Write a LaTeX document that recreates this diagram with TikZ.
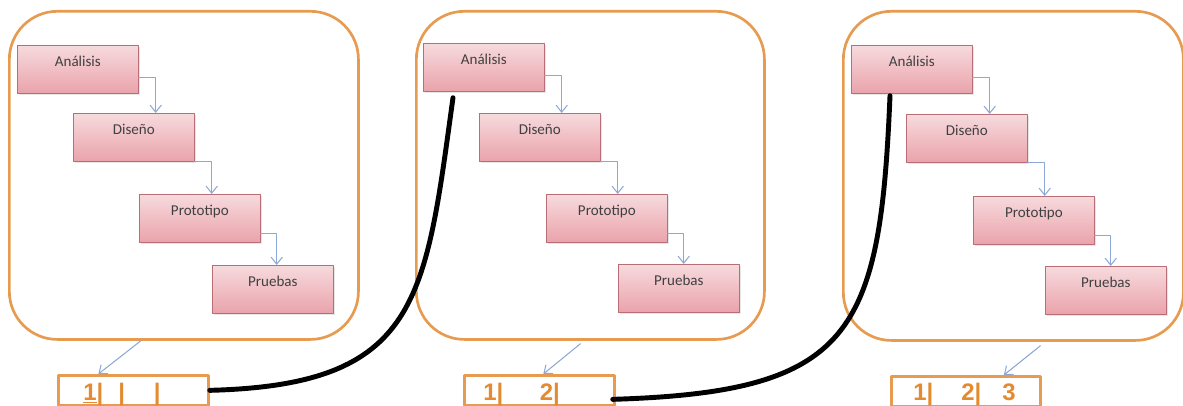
\documentclass[tikz,border=0pt]{standalone}
\usepackage{fontspec}
\setmainfont{Carlito}
\newfontfamily\cifras{Liberation Sans}
\usepackage{pgf,tikz}
\usetikzlibrary{arrows,arrows.meta,shadows}
\definecolor{naranja}{HTML}{E69B50}
\definecolor{cifra}{HTML}{E48A30}
\definecolor{rosa1}{HTML}{F6DADD}
\definecolor{rosa2}{HTML}{EAA3AB}
\definecolor{borde}{HTML}{B96D76}
\definecolor{flecha}{HTML}{8CA8D8}

\begin{document}
\begin{tikzpicture}[line cap=round,line join=round,x=0.025cm,y=-0.025cm,
  >={Straight Barb[length=5pt,width=8pt]},
  ciclo/.style={draw=naranja,line width=1.9pt,rounded corners=1.2cm,anchor=north west,inner sep=0pt,minimum height=8.2cm},
  etapa/.style={draw=borde,line width=0.5pt,top color=rosa1,bottom color=rosa2,anchor=north west,minimum width=3.025cm,inner xsep=0pt,inner ysep=0pt,text height=0.52cm,text depth=0.68cm,font=\fontsize{10.7}{13}\selectfont,text=black!75,drop shadow={opacity=0.2,shadow xshift=1pt,shadow yshift=-1pt}},
  flujo/.style={->,draw=flecha,line width=0.75pt},
  registro/.style={draw=naranja,line width=1.9pt,anchor=north west,minimum width=3.75cm,minimum height=0.75cm,inner sep=0pt},
  cifra/.style={anchor=base west,inner sep=0pt,text=cifra,font=\cifras\bfseries\fontsize{17}{20}\selectfont},
  enlace/.style={draw=black,line width=3.5pt}]
\useasboundingbox (0,0) rectangle (1183,406);
\node[ciclo,minimum width=8.725cm] (ciclo1) at (8,10) {};
\node[ciclo,minimum width=8.7cm] (ciclo2) at (415,10) {};
\node[ciclo,minimum width=8.5cm,minimum height=8.225cm] (ciclo3) at (842,10) {};
% primera vuelta
\node[etapa] (ana1) at (17,45) {Análisis};
\node[etapa] (dis1) at (73,113) {Diseño};
\node[etapa] (pro1) at (139,194) {Prototipo};
\node[etapa] (pru1) at (212,265) {Pruebas};
\draw[flujo] ([yshift=-0.2cm]ana1.east) -- ++(17,0) coordinate (k) -- (k |- dis1.north);
\draw[flujo] ([yshift=-0.6cm]dis1.east) -- ++(17,0) coordinate (k) -- (k |- pro1.north);
\draw[flujo] ([yshift=-0.375cm]pro1.east) -- ++(16,0) coordinate (k) -- (k |- pru1.north);
% segunda vuelta
\node[etapa] (ana2) at (423,43) {Análisis};
\node[etapa] (dis2) at (479,113) {Diseño};
\node[etapa] (pro2) at (546,194) {Prototipo};
\node[etapa] (pru2) at (618,264) {Pruebas};
\draw[flujo] ([yshift=-0.2cm]ana2.east) -- ++(17,0) coordinate (k) -- (k |- dis2.north);
\draw[flujo] ([yshift=-0.6cm]dis2.east) -- ++(17,0) coordinate (k) -- (k |- pro2.north);
\draw[flujo] ([yshift=-0.375cm]pro2.east) -- ++(16,0) coordinate (k) -- (k |- pru2.north);
% tercera vuelta
\node[etapa] (ana3) at (851,45) {Análisis};
\node[etapa] (dis3) at (906,114) {Diseño};
\node[etapa] (pro3) at (973,196) {Prototipo};
\node[etapa] (pru3) at (1045,266) {Pruebas};
\draw[flujo] ([yshift=-0.2cm]ana3.east) -- ++(17,0) coordinate (k) -- (k |- dis3.north);
\draw[flujo] ([yshift=-0.6cm]dis3.east) -- ++(17,0) coordinate (k) -- (k |- pro3.north);
\draw[flujo] ([yshift=-0.375cm]pro3.east) -- ++(16,0) coordinate (k) -- (k |- pru3.north);

\node[registro] (reg1) at (57,374) {};
\node[registro] (reg2) at (463,374) {};
\node[registro,minimum width=3.725cm] (reg3) at (890,375) {};
\node[cifra] (num1) at (83,400) {\underline{1}|\hspace{10.7pt}|\hspace{20.6pt}|};
\node[cifra] (num2) at (483,400) {1|\hspace{26pt}2|};
\node[cifra] (num3) at (913,400) {1|\hspace{20pt}2|\hspace{15pt}3};
\draw[flujo] ([shift={(-43,0)}]ciclo1.south) -- ([shift={(-35,0)}]reg1.north);
\draw[flujo] ([shift={(-10,3)}]ciclo2.south) -- ([shift={(4,0)}]reg2.north);
\draw[flujo] ([shift={(27,4)}]ciclo3.south) -- ([shift={(38,0)}]reg3.north);

\draw[enlace] (reg1.east) .. controls (420,385) and (425,300) .. ([shift={(30,6)}]ana2.south west);
\draw[enlace] ([shift={(-3,9)}]reg2.east) .. controls (852,392) and (880,335) .. ([shift={(39,2)}]ana3.south west);
\end{tikzpicture}
\end{document}
